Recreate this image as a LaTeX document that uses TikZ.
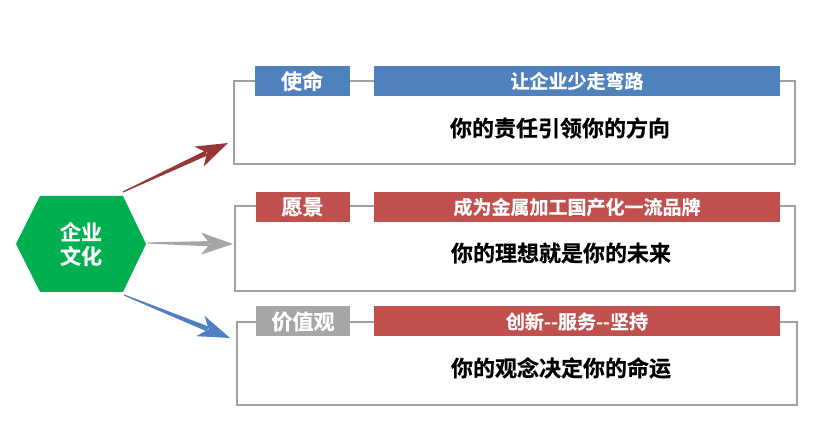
\documentclass[tikz,border=0pt]{standalone}
\usepackage{fontspec}
\setmainfont{Noto Sans CJK SC}[BoldFont=* Bold]
\newfontfamily\cjkb{Noto Sans CJK SC Bold}[FakeBold=0.6]
\usetikzlibrary{calc}
\definecolor{hexgreen}{HTML}{00B050}
\definecolor{lblue}{HTML}{4F81BD}
\definecolor{lred}{HTML}{C0504D}
\definecolor{lgray}{HTML}{A6A6A6}
\definecolor{ared}{HTML}{953735}
\definecolor{ablue}{HTML}{4F7FC3}
\definecolor{bordergray}{HTML}{A0A0A0}
\newcommand\tarrow[3]{%
  \fill[#3] ($(#1)!0.6pt!90:(#2)$) -- ($($(#2)!24pt!(#1)$)!2.6pt!90:(#2)$)
     -- ($($(#2)!24pt!(#1)$)!2.6pt!-90:(#2)$) -- ($(#1)!0.6pt!-90:(#2)$) -- cycle;
  \fill[#3] (#2) -- ($($(#2)!32pt!(#1)$)!11pt!90:(#2)$) -- ($(#2)!23pt!(#1)$)
     -- ($($(#2)!32pt!(#1)$)!11pt!-90:(#2)$) -- cycle;}
\tikzset{
  panel/.style={draw=bordergray, line width=1.2pt, fill=white},
  tag/.style={anchor=center, minimum height=30pt, inner sep=0pt, text=white, font=\cjkb\fontsize{21}{24}\selectfont},
  bar/.style={anchor=center, minimum height=30pt, inner sep=0pt, text=white, font=\cjkb\fontsize{19}{22}\selectfont},
  body/.style={font=\cjkb\fontsize{22}{24}\selectfont, text=black},
}
\begin{document}
\begin{tikzpicture}[x=1pt,y=-1pt]
\useasboundingbox (0,0) rectangle (825,427);
% hexagon
\fill[hexgreen] (16,244) -- (40,196) -- (123,196) -- (146,244) -- (123,292) -- (40,292) -- cycle;
\node[text=white, font=\cjkb\fontsize{21}{25}\selectfont, align=center] (hex) at (81,244) {企业\\[-1pt]文化};
% panels
\draw[panel] (234,81) rectangle (795,164);
\draw[panel] (235,206) rectangle (795,291);
\draw[panel] (237,322) rectangle (797,405);
% tags and bars
\node[tag, fill=lblue, minimum width=95pt] (t1) at (302,81) {使命};
\node[bar, fill=lblue, minimum width=406pt] (s1) at (577,81) {让企业少走弯路};
\node[body] (m1) at (560,128) {你的责任引领你的方向};
\node[tag, fill=lred, minimum width=94pt] (t2) at (302.5,207) {愿景};
\node[bar, fill=lred, minimum width=406pt] (s2) at (577,207) {成为金属加工国产化一流品牌};
\node[body] (m2) at (561,253) {你的理想就是你的未来};
\node[tag, fill=lgray, minimum width=94pt] (t3) at (303,321.5) {价值观};
\node[bar, fill=lred, minimum width=406pt] (s3) at (577,321.5) {创新--服务--坚持};
\node[body] (m3) at (561,368) {你的观念决定你的命运};
% arrows
\coordinate (r1) at (123,192); \coordinate (r2) at (228,143);
\coordinate (g1) at (148,243); \coordinate (g2) at (233,244);
\coordinate (b1) at (124,295); \coordinate (b2) at (230,338);
\tarrow{r1}{r2}{ared}
\tarrow{g1}{g2}{lgray}
\tarrow{b1}{b2}{ablue}
\end{tikzpicture}
\end{document}
